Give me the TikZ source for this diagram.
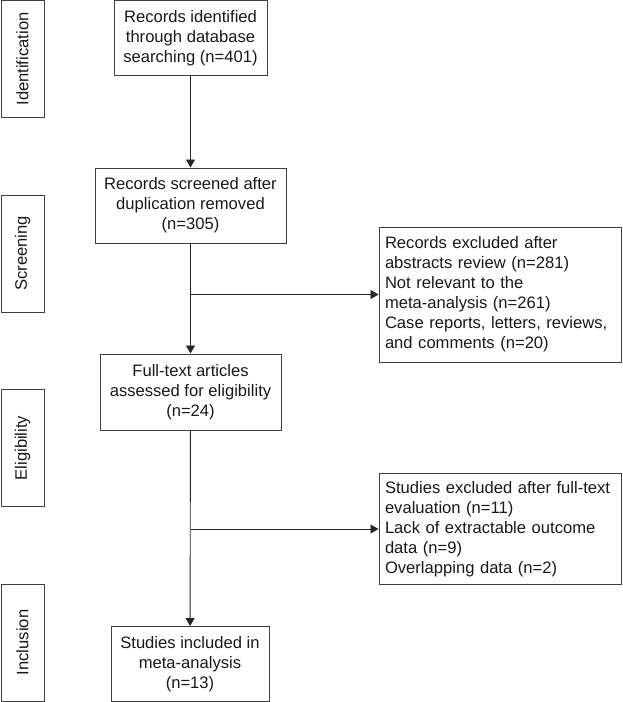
\documentclass[tikz,border=0pt]{standalone}
\usepackage{fontspec}
\setmainfont{Liberation Sans}
\usetikzlibrary{arrows.meta, positioning}

\begin{document}
\begin{tikzpicture}[x=1pt, y=-1pt,
    box/.style={draw=black!75, line width=1pt, inner sep=0pt, text=black!90,
      font=\fontsize{16.6}{20}\selectfont, align=center},
    phase/.style={box, rotate=90, minimum width=117pt, minimum height=43pt},
    step box/.style={box},
    excl box/.style={box, align=left, inner xsep=6pt, inner ysep=8pt, text width=230pt},
    link/.style={draw=black!85, line width=0.9pt},
    arrow/.style={link, -{Triangle[length=8pt, width=9pt]}}]
    \useasboundingbox (0,0) rectangle (622,702);

    % Phase labels on the left
    \node[phase] (ident) at (22.5,59) {Identification};
    \node[phase] (screen) at (22.5,253.5) {Screening};
    \node[phase] (elig) at (22.5,448) {Eligibility};
    \node[phase] (inclphase) at (22.5,642.5) {Inclusion};

    % Main flow boxes
    \node[step box, minimum width=153pt, minimum height=75pt] (records) at (190.5,38)
      {Records identified\\through database\\searching (n=401)};
    \node[step box, minimum width=191pt, minimum height=75pt] (screened) at (190.5,205.5)
      {Records screened after\\duplication removed\\(n=305)};
    \node[step box, minimum width=181pt, minimum height=76pt] (fulltext) at (190.5,392)
      {Full-text articles\\assessed for eligibility\\(n=24)};
    \node[step box, minimum width=158pt, minimum height=75pt] (included) at (190,664)
      {Studies included in\\meta-analysis\\(n=13)};

    % Exclusion boxes on the right
    \node[excl box, minimum height=135pt] (excl1) at (500,294.5)
      {Records excluded after\\abstracts review (n=281)\\Not relevant to the\\meta-analysis (n=261)\\Case reports, letters, reviews,\\and comments (n=20)};
    \node[excl box, minimum height=106pt] (excl2) at (500,529)
      {Studies excluded after full-text\\evaluation (n=11)\\Lack of extractable outcome\\data (n=9)\\Overlapping data (n=2)};

    % Arrows down the main flow
    \draw[arrow] (records) -- (screened);
    \draw[arrow] (screened) -- (fulltext);
    \draw[arrow] (fulltext) -- (included);

    % Side branches to the exclusion boxes
    \coordinate (split1) at (screened.south |- excl1.west);
    \coordinate (split2) at (fulltext.south |- excl2.west);
    \draw[arrow] (split1) -- (excl1);
    \draw[arrow] (split2) -- (excl2);

\end{tikzpicture}
\end{document}
